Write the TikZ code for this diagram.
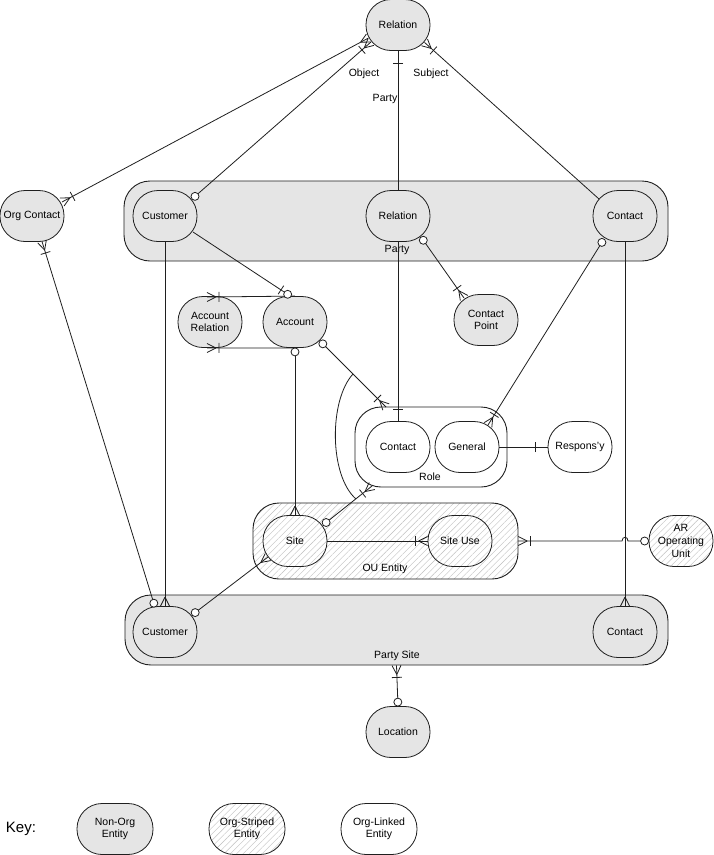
\documentclass[tikz,border=0pt]{standalone}
\usepackage{fontspec}
\setmainfont{Liberation Sans}
\usetikzlibrary{calc,patterns.meta}
\definecolor{entgray}{gray}{0.9}
\definecolor{ink}{gray}{0.12}
\newcommand{\erCrow}[2]{\draw[mk] ($(#1)!9pt!(#2)$) -- ($(#1)!4.5pt!90:(#2)$) ($(#1)!9pt!(#2)$) -- ($(#1)!4.5pt!-90:(#2)$);}
\newcommand{\erBar}[2]{\draw[mk] ($(#1)!12pt!(#2)!5pt!90:(#2)$) -- ($(#1)!12pt!(#2)!5pt!-90:(#2)$);}
\newcommand{\erCirc}[2]{\draw[mk,fill=white] ($(#1)!4pt!(#2)$) circle[radius=4pt];}
\begin{document}
\begin{tikzpicture}[x=1pt,y=-1pt,
  font=\fontsize{10.5}{12.5}\selectfont,
  mk/.style={draw=ink,line width=0.8pt},
  conn/.style={draw=ink,line width=0.8pt},
  ent/.style={draw=ink,line width=0.8pt,rounded corners=25pt,minimum width=64pt,minimum height=51pt,inner sep=1pt,align=center},
  grayent/.style={ent,fill=entgray},
  whiteent/.style={ent,fill=white},
  stripes/.style={preaction={fill=white},pattern={Lines[angle=45,distance=4.5pt,line width=0.4pt]},pattern color=black!25},
  stripent/.style={ent,stripes},
  cont/.style={draw=ink,line width=0.9pt,rounded corners=26pt,inner sep=0pt},
  lbl/.style={inner sep=1pt}]
\useasboundingbox (0,0) rectangle (714,855);
\fill[white] (0,0) rectangle (714,855);
% containers
\node[cont,fill=entgray,minimum width=544pt,minimum height=80pt] (party) at (396,221) {};
\node[cont,fill=white,minimum width=152pt,minimum height=80pt] (role) at (431,447) {};
\node[cont,stripes,minimum width=265pt,minimum height=76pt] (ou) at (385.5,541) {};
\node[cont,fill=entgray,minimum width=543pt,minimum height=70pt] (psite) at (396.5,630) {};
\node[lbl] (lparty) at (397,250) {Party};
\node[lbl] (lrole) at (430,477) {Role};
\node[lbl] (lou) at (385,569) {OU Entity};
\node[lbl] (lpsite) at (397,656) {Party Site};
% entities
\node[grayent] (rel) at (398,25) {Relation};
\node[grayent] (orgc) at (32,216) {Org Contact};
\node[grayent] (cusP) at (165,216) {Customer};
\node[grayent] (relP) at (398,216) {Relation};
\node[grayent] (conP) at (625,216) {Contact};
\node[grayent] (accrel) at (210,322) {Account\\Relation};
\node[grayent] (acc) at (295,322) {Account};
\node[grayent] (cpt) at (486,320) {Contact\\Point};
\node[whiteent] (conR) at (398,447) {Contact};
\node[whiteent] (gen) at (467,447) {General};
\node[whiteent] (resp) at (580,447) {Respons'y};
\node[stripent] (site) at (295,541) {Site};
\node[stripent] (siteuse) at (460,541) {Site Use};
\node[stripent,font=\fontsize{10.5}{13}\selectfont] (aru) at (681,541) {AR\\Operating\\Unit};
\node[grayent] (cusS) at (165,632) {Customer};
\node[grayent] (conS) at (625,632) {Contact};
\node[grayent] (loc) at (398,732) {Location};
% labels on connectors
\node[lbl] (tobj) at (364,74) {Object};
\node[lbl] (tsub) at (431,74) {Subject};
\node[lbl] (tpar) at (385,99) {Party};
% connector end points
\coordinate (r1) at (368.5,38);
\coordinate (o1) at (62,202);
\coordinate (r2) at (371,42);
\coordinate (cp1) at (192,199);
\coordinate (r4) at (424.5,42.4);
\coordinate (cn1) at (599,199);
\coordinate (o2) at (42,241.5);
\coordinate (cs1) at (155,607);
\coordinate (cp2) at (193,232);
\coordinate (a1) at (291,296.5);
\coordinate (ar1) at (207,297);
\coordinate (ar2) at (207,348);
\coordinate (a2) at (320,341);
\coordinate (ro1) at (386,407);
\coordinate (rp1) at (421,237);
\coordinate (cpt1) at (464,298);
\coordinate (cn2) at (604,239);
\coordinate (g1) at (488,425);
\coordinate (s1) at (323,525);
\coordinate (ro2) at (372,486);
\coordinate (s2) at (268,557);
\coordinate (cs2) at (192,615);
\coordinate (hopR) at (628,541);
\coordinate (hopL) at (622,541);
% connectors
\draw[conn] (r1) -- (o1);
\draw[conn] (r2) -- (cp1);
\draw[conn] (rel.south) -- (relP.north);
\draw[conn] (r4) -- (cn1);
\draw[conn] (o2) -- (cs1);
\draw[conn] (cusP.south) -- (cusS.north);
\draw[conn] (cp2) -- (a1);
\draw[conn] (ar1) -- (acc.north);
\draw[conn] (ar2) -- (acc.south);
\draw[conn] (acc.south) -- (site.north);
\draw[conn] (a2) -- (ro1);
\draw[conn] (relP.south) -- (conR.north);
\draw[conn] (rp1) -- (cpt1);
\draw[conn] (cn2) -- (g1);
\draw[conn] (conP.south) -- (conS.north);
\draw[conn] (gen.east) -- (resp.west);
\draw[conn] (site.east) -- (siteuse.west);
\draw[conn] (aru.west) -- (hopR) .. controls (628,536) and (622,536) .. (hopL) -- (ou.east);
\draw[conn] (s2) -- (cs2);
\draw[conn] (s1) -- (ro2);
\draw[conn] (psite.south) -- (loc.north);
% exclusive arc
\coordinate (arcA) at ($(a2)!0.5!(ro1)$);
\coordinate (arcB) at ($(s1)!0.67!(ro2)$);
\draw[conn] (arcA) .. controls (329,400) and (329,475) .. (arcB);
% marks
\erCrow{r1}{o1}
\erCrow{o1}{r1}\erBar{o1}{r1}
\erCrow{r2}{cp1}\erBar{r2}{cp1}
\erCirc{cp1}{r2}
\erBar{rel.south}{relP.north}
\erCrow{r4}{cn1}\erBar{r4}{cn1}
\erCrow{o2}{cs1}\erBar{o2}{cs1}
\erCirc{cs1}{o2}
\erCrow{cusS.north}{cusP.south}
\erBar{a1}{cp2}\erCirc{a1}{cp2}
\erCrow{ar1}{acc.north}\erBar{ar1}{acc.north}
\erCrow{ar2}{acc.south}\erBar{ar2}{acc.south}
\erCirc{acc.south}{site.north}
\erCrow{site.north}{acc.south}
\erCirc{a2}{ro1}
\erCrow{ro1}{a2}\erBar{ro1}{a2}
\erBar{conR.north}{relP.south}
\erCirc{rp1}{cpt1}
\erCrow{cpt1}{rp1}\erBar{cpt1}{rp1}
\erCirc{cn2}{g1}
\erCrow{g1}{cn2}\erBar{g1}{cn2}
\erCrow{conS.north}{conP.south}
\erBar{resp.west}{gen.east}
\erCrow{siteuse.west}{site.east}\erBar{siteuse.west}{site.east}
\erCirc{aru.west}{ou.east}
\erCrow{ou.east}{aru.west}\erBar{ou.east}{aru.west}
\erCrow{s2}{cs2}
\erCirc{cs2}{s2}
\erCirc{s1}{ro2}
\erCrow{ro2}{s1}\erBar{ro2}{s1}
\erCrow{psite.south}{loc.north}\erBar{psite.south}{loc.north}
\erCirc{loc.north}{psite.south}
% key
\node[lbl,font=\fontsize{15}{18}\selectfont] (key) at (21,829) {Key:};
\node[grayent,minimum width=76pt] (k1) at (115,829) {Non-Org\\Entity};
\node[stripent,minimum width=76pt] (k2) at (247,829) {Org-Striped\\Entity};
\node[whiteent,minimum width=76pt] (k3) at (379,829) {Org-Linked\\Entity};
\end{tikzpicture}
\end{document}
